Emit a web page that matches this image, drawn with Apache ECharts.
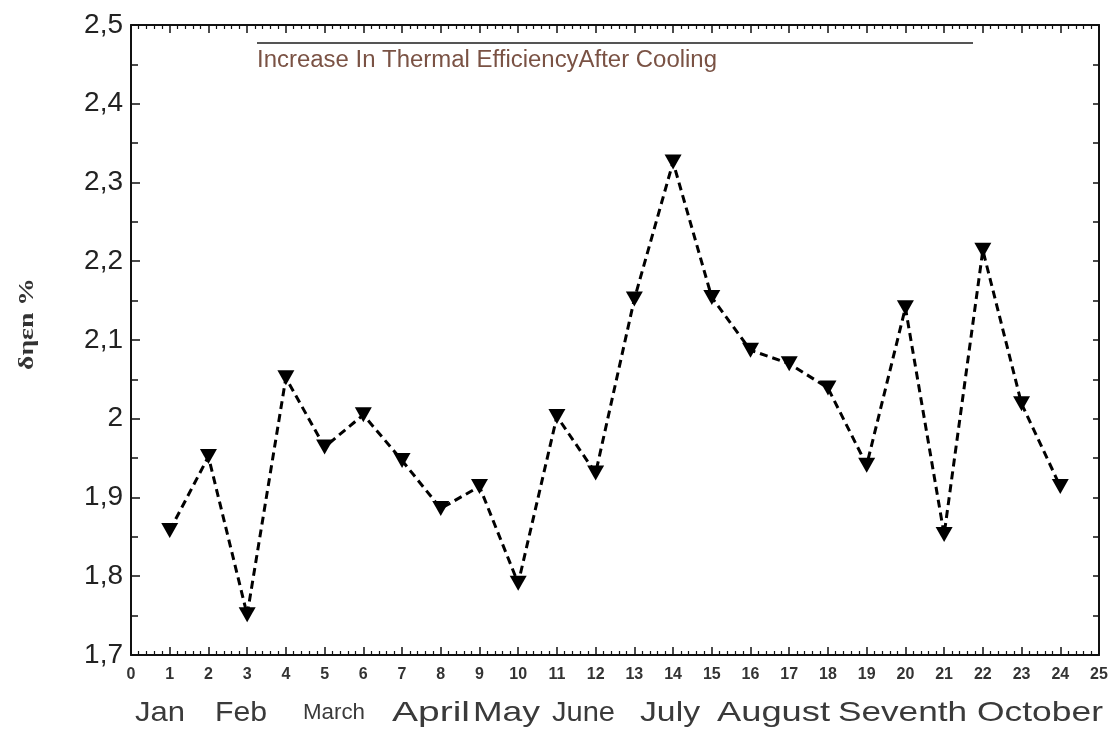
<!DOCTYPE html>
<html>
<head>
<meta charset="utf-8">
<script src="https://cdn.jsdelivr.net/npm/echarts@6/dist/echarts.min.js"></script>
<style>
html,body{margin:0;padding:0;background:#fff;}
#chart{width:1116px;height:733px;}
</style>
</head>
<body>
<div id="chart"></div>
<script>
// ---- data ----
var months = [1,2,3,4,5,6,7,8,9,10,11,12,13,14,15,16,17,18,19,20,21,22,23,24];
var efficiency = [1.858,1.952,1.751,2.052,1.964,2.005,1.947,1.886,1.914,1.791,2.003,1.931,
                  2.152,2.326,2.154,2.087,2.070,2.039,1.941,2.141,1.853,2.214,2.019,1.914];
var monthNames = ['Jan','Feb','March','April','May','June','July','August','Seventh','October'];
var seriesName = 'Increase In Thermal EfficiencyAfter Cooling';
var yAxisTitle = 'δηεn %';

// ---- layout (pixel extents of the month captions) ----
var monthLeft  = [135,215,303,392,473,552,640,717,838,977];
var monthRight = [185,267,365,470,540,615,700,830,967,1103];

var points = months.map(function(m,i){ return [m, efficiency[i]]; });

var cv = document.createElement('canvas').getContext('2d');
function fit(text, font, w){ cv.font = font; return w / cv.measureText(text).width; }

var graphics = [];
monthNames.forEach(function(name,i){
  var small = name === 'March';
  var fs = small ? 22 : 28;
  var font = 'normal ' + fs + 'px "Liberation Sans", Arial, sans-serif';
  graphics.push({
    type:'text', x: monthLeft[i], y: 713,
    scaleX: fit(name, font, monthRight[i]-monthLeft[i]),
    style:{ text:name, font:font, fill:'#3a3a3a', align:'left', verticalAlign:'middle' }
  });
});
var legFont = 'normal 23px "Liberation Sans", Arial, sans-serif';
graphics.push({ type:'line', shape:{x1:257,y1:43,x2:973,y2:43}, style:{stroke:'#555',lineWidth:1.8} });
graphics.push({ type:'text', x:257, y:61, scaleX: fit(seriesName, legFont, 460),
  style:{ text:seriesName, font:legFont, fill:'#7a5244', align:'left', verticalAlign:'middle' } });
var yFont = 'bold 21px "Liberation Serif", "DejaVu Serif", serif';
graphics.push({ type:'text', x:28, y:324, rotation: Math.PI/2, scaleX: fit(yAxisTitle, yFont, 92),
  style:{ text:yAxisTitle, font:yFont, fill:'#333', align:'center', verticalAlign:'middle' } });

function yfmt(v){
  var r = Math.round(v*10)/10;
  if (Math.abs(r-2) < 1e-9) return '2';
  return r.toFixed(1).replace('.', ',');
}

var axisLine = { show:true, onZero:false, lineStyle:{ color:'#111', width:2 } };

var chart = echarts.init(document.getElementById('chart'), null, {renderer:'canvas'});
chart.setOption({
  animation:false,
  backgroundColor:'#fff',
  grid:{ left:131, right:17, top:25, bottom:78, containLabel:false },
  xAxis:[
    { type:'value', position:'bottom', min:0, max:25, interval:1,
      axisLine:axisLine,
      axisTick:{ show:true, inside:true, length:8, lineStyle:{color:'#111',width:1.5} },
      minorTick:{ show:true, splitNumber:5, length:4, lineStyle:{color:'#111',width:1.2} },
      axisLabel:{ show:true, margin:12, fontSize:16, fontWeight:'bold', color:'#333',
                  fontFamily:'"Liberation Sans", Arial, sans-serif' },
      splitLine:{show:false}, minorSplitLine:{show:false} },
    { type:'value', position:'top', min:0, max:25, interval:1,
      axisLine:axisLine,
      axisTick:{ show:true, inside:true, length:8, lineStyle:{color:'#111',width:1.5} },
      minorTick:{ show:true, splitNumber:5, length:4, lineStyle:{color:'#111',width:1.2} },
      axisLabel:{ show:false }, splitLine:{show:false} }
  ],
  yAxis:[
    { type:'value', position:'left', min:1.7, max:2.5, interval:0.1,
      axisLine:axisLine,
      axisTick:{ show:true, inside:true, length:9, lineStyle:{color:'#111',width:1.5} },
      minorTick:{ show:true, splitNumber:2, length:7, lineStyle:{color:'#111',width:1.5} },
      axisLabel:{ show:true, margin:8, fontSize:28, color:'#222', formatter:yfmt,
                  fontFamily:'"Liberation Sans", Arial, sans-serif' },
      splitLine:{show:false} },
    { type:'value', position:'right', min:1.7, max:2.5, interval:0.1,
      axisLine:axisLine,
      axisTick:{ show:true, inside:true, length:6, lineStyle:{color:'#111',width:1.5} },
      minorTick:{ show:true, splitNumber:2, length:6, lineStyle:{color:'#111',width:1.5} },
      axisLabel:{ show:false }, splitLine:{show:false} }
  ],
  series:[{
    name: seriesName, type:'line', xAxisIndex:0, yAxisIndex:0,
    data: points,
    symbol:'triangle', symbolRotate:180, symbolSize:[17,15],
    itemStyle:{ color:'#000' },
    lineStyle:{ color:'#000', width:3, type:[8,5] },
    z:3
  }],
  graphic: graphics
});
</script>
</body>
</html>
